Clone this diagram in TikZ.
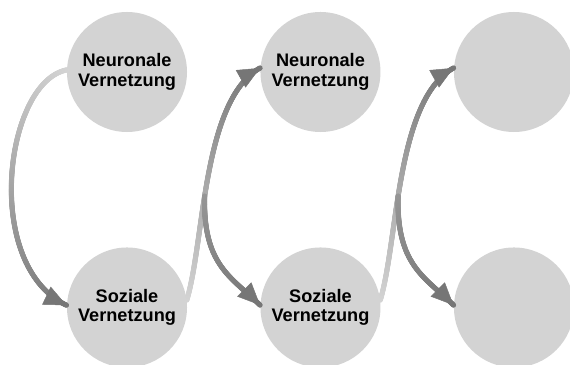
\documentclass[tikz,border=0pt]{standalone}
\usepackage{fontspec}
\setmainfont{Liberation Sans}
\usetikzlibrary{positioning,arrows.meta,decorations.markings}
\definecolor{bubblegray}{RGB}{211,211,211}
\definecolor{fadelight}{RGB}{212,212,212}
\definecolor{fademid}{RGB}{150,150,150}
\definecolor{fadedark}{RGB}{118,118,118}
\tikzset{%
  bubble/.style = {circle, fill=bubblegray, minimum size=3.6cm,
    inner sep=0pt, align=center,
    font=\bfseries\fontsize{15.5}{16.5}\selectfont},
  fade/.style 2 args = {
    postaction={decorate, decoration={markings,
      mark=between positions 0 and 1 step 0.4pt with {
        \pgfmathsetmacro\fadepct{min(100,\pgfkeysvalueof{/pgf/decoration/mark info/distance from start}/\pgfdecoratedpathlength*100)}
        \fill[#2!\fadepct!#1] (0,0) circle (2.2pt);}}},
    postaction={decorate, decoration={markings,
      mark=at position -0.3pt with {\arrow[#2]{Triangle[length=19pt,width=17pt]}}}}}
}
\begin{document}
\begin{tikzpicture}[x=0.03cm, y=0.03cm]
  \useasboundingbox (0,0) rectangle (570,364);
  \node[bubble] (nv1) at (127,292) {Neuronale\\Vernetzung};
  \node[bubble, below=3.45cm of nv1] (sv1) {Soziale\\Vernetzung};
  \node[bubble, right=2.19cm of nv1] (nv2) {Neuronale\\Vernetzung};
  \node[bubble, right=2.19cm of sv1] (sv2) {Soziale\\Vernetzung};
  \node[bubble, right=2.19cm of nv2] (nv3) {};
  \node[bubble, right=2.19cm of sv2] (sv3) {};
  % first step: neuronal -> social
  \path[fade={fadelight}{fadedark}] (nv1.178)
    .. controls +(-62,-12) and +(-85,40) .. (sv1.178);
  % then social -> both of the next pair
  \foreach \from/\up/\down in {sv1/nv2/sv2, sv2/nv3/sv3} {
    \path[fade={fadelight}{fadedark}] (\from.7)
      .. controls +(18,60) and +(-58,-32) .. (\up.176)
      coordinate[pos=0.42] (br);
    \path[fade={fademid}{fadedark}] (br)
      .. controls +(-2,-70) and +(-28,28) .. (\down.178);
  }
\end{tikzpicture}
\end{document}
